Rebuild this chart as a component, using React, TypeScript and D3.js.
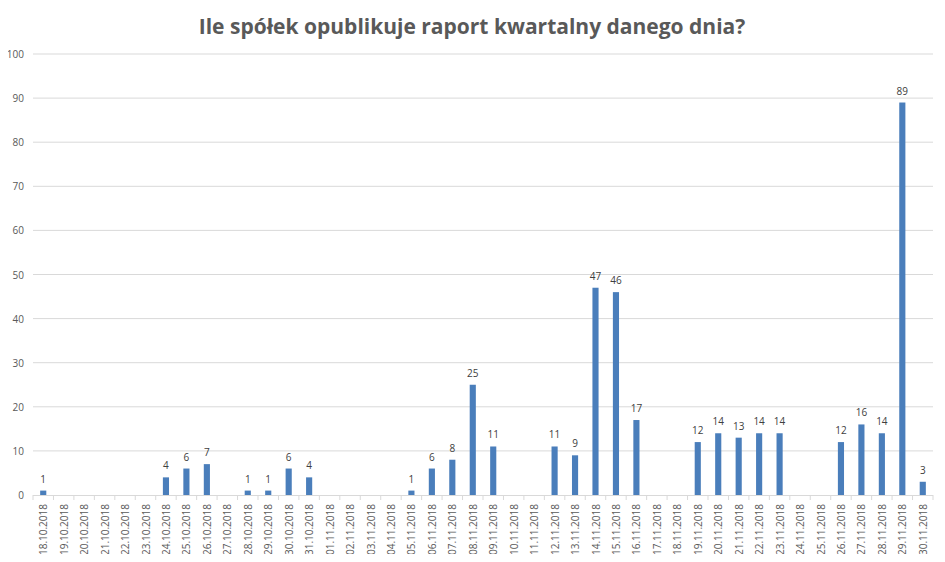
import React, { useEffect, useRef } from "react";
import * as d3 from "d3";

const dates = [
  "18.10.2018", "19.10.2018", "20.10.2018", "21.10.2018", "22.10.2018", "23.10.2018",
  "24.10.2018", "25.10.2018", "26.10.2018", "27.10.2018", "28.10.2018", "29.10.2018",
  "30.10.2018", "31.10.2018", "01.11.2018", "02.11.2018", "03.11.2018", "04.11.2018",
  "05.11.2018", "06.11.2018", "07.11.2018", "08.11.2018", "09.11.2018", "10.11.2018",
  "11.11.2018", "12.11.2018", "13.11.2018", "14.11.2018", "15.11.2018", "16.11.2018",
  "17.11.2018", "18.11.2018", "19.11.2018", "20.11.2018", "21.11.2018", "22.11.2018",
  "23.11.2018", "24.11.2018", "25.11.2018", "26.11.2018", "27.11.2018", "28.11.2018",
  "29.11.2018", "30.11.2018",
];

const counts = [
  1, 0, 0, 0, 0, 0,
  4, 6, 7, 0, 1, 1,
  6, 4, 0, 0, 0, 0,
  1, 6, 8, 25, 11, 0,
  0, 11, 9, 47, 46, 17,
  0, 0, 12, 14, 13, 14,
  14, 0, 0, 12, 16, 14,
  89, 3,
];

const yTicks = [0, 10, 20, 30, 40, 50, 60, 70, 80, 90, 100];

const title = "Ile spółek opublikuje raport kwartalny danego dnia?";

const Chart: React.FC = () => {
  const svgRef = useRef<SVGSVGElement>(null);

  useEffect(() => {
    if (!svgRef.current) return;
    const width = 945;
    const height = 562;
    const margin = { top: 54, right: 12, bottom: 67, left: 33 };

    const svg = d3.select(svgRef.current);
    svg.selectAll("*").remove();
    svg.attr("width", width).attr("height", height);

    svg
      .append("rect")
      .attr("width", width)
      .attr("height", height)
      .attr("fill", "#fff");

    const x = d3
      .scaleBand<string>()
      .domain(dates)
      .range([margin.left, width - margin.right])
      .paddingInner(0.7)
      .paddingOuter(0.35);

    const y = d3
      .scaleLinear()
      .domain([0, 100])
      .range([height - margin.bottom, margin.top]);

    const font = "'Open Sans', 'Liberation Sans', sans-serif";

    // title
    svg
      .append("text")
      .attr("x", 472)
      .attr("y", 34)
      .attr("text-anchor", "middle")
      .style("font-family", font)
      .style("font-size", "21px")
      .style("font-weight", "bold")
      .style("fill", "#595959")
      .text(title);

    // grid lines
    svg
      .append("g")
      .selectAll("line")
      .data(yTicks.filter((t) => t > 0))
      .enter()
      .append("line")
      .attr("x1", margin.left)
      .attr("x2", width - margin.right)
      .attr("y1", (d) => y(d))
      .attr("y2", (d) => y(d))
      .attr("stroke", "#d9d9d9")
      .attr("stroke-width", 1);

    // y labels
    svg
      .append("g")
      .selectAll("text")
      .data(yTicks)
      .enter()
      .append("text")
      .attr("x", 24)
      .attr("y", (d) => y(d) + 4)
      .attr("text-anchor", "end")
      .style("font-family", font)
      .style("font-size", "10px")
      .style("fill", "#595959")
      .text((d) => d);

    // bars
    svg
      .append("g")
      .selectAll("rect")
      .data(counts)
      .enter()
      .append("rect")
      .attr("x", (_d, i) => x(dates[i])!)
      .attr("width", x.bandwidth())
      .attr("y", (d) => y(d))
      .attr("height", (d) => y(0) - y(d))
      .attr("fill", "#4a7ebb");

    // value labels
    svg
      .append("g")
      .selectAll("text")
      .data(counts.map((v, i) => ({ v, d: dates[i] })).filter((o) => o.v > 0))
      .enter()
      .append("text")
      .attr("x", (o) => x(o.d)! + x.bandwidth() / 2)
      .attr("y", (o) => y(o.v) - 8)
      .attr("text-anchor", "middle")
      .style("font-family", font)
      .style("font-size", "10px")
      .style("fill", "#404040")
      .text((o) => o.v);

    // x axis baseline and ticks
    const step = x.step();
    const x0 = margin.left;
    const axis = svg.append("g");
    axis
      .append("line")
      .attr("x1", margin.left)
      .attr("x2", width - margin.right)
      .attr("y1", y(0) + 0.5)
      .attr("y2", y(0) + 0.5)
      .attr("stroke", "#d9d9d9");
    axis
      .selectAll("line.tick")
      .data(d3.range(dates.length + 1))
      .enter()
      .append("line")
      .attr("class", "tick")
      .attr("x1", (i) => x0 + i * step)
      .attr("x2", (i) => x0 + i * step)
      .attr("y1", y(0))
      .attr("y2", y(0) + 5)
      .attr("stroke", "#d9d9d9");

    // x labels
    axis
      .selectAll("text")
      .data(dates)
      .enter()
      .append("text")
      .attr(
        "transform",
        (d) => `translate(${x(d)! + x.bandwidth() / 2 + 4},${y(0) + 9}) rotate(-90)`,
      )
      .attr("text-anchor", "end")
      .style("font-family", font)
      .style("font-size", "10px")
      .style("fill", "#595959")
      .text((d) => d);
  }, []);

  return <svg ref={svgRef} style={{ display: "block" }} />;
};

export default function App() {
  return (
    <div style={{ margin: -8 }}>
      <Chart />
    </div>
  );
}
